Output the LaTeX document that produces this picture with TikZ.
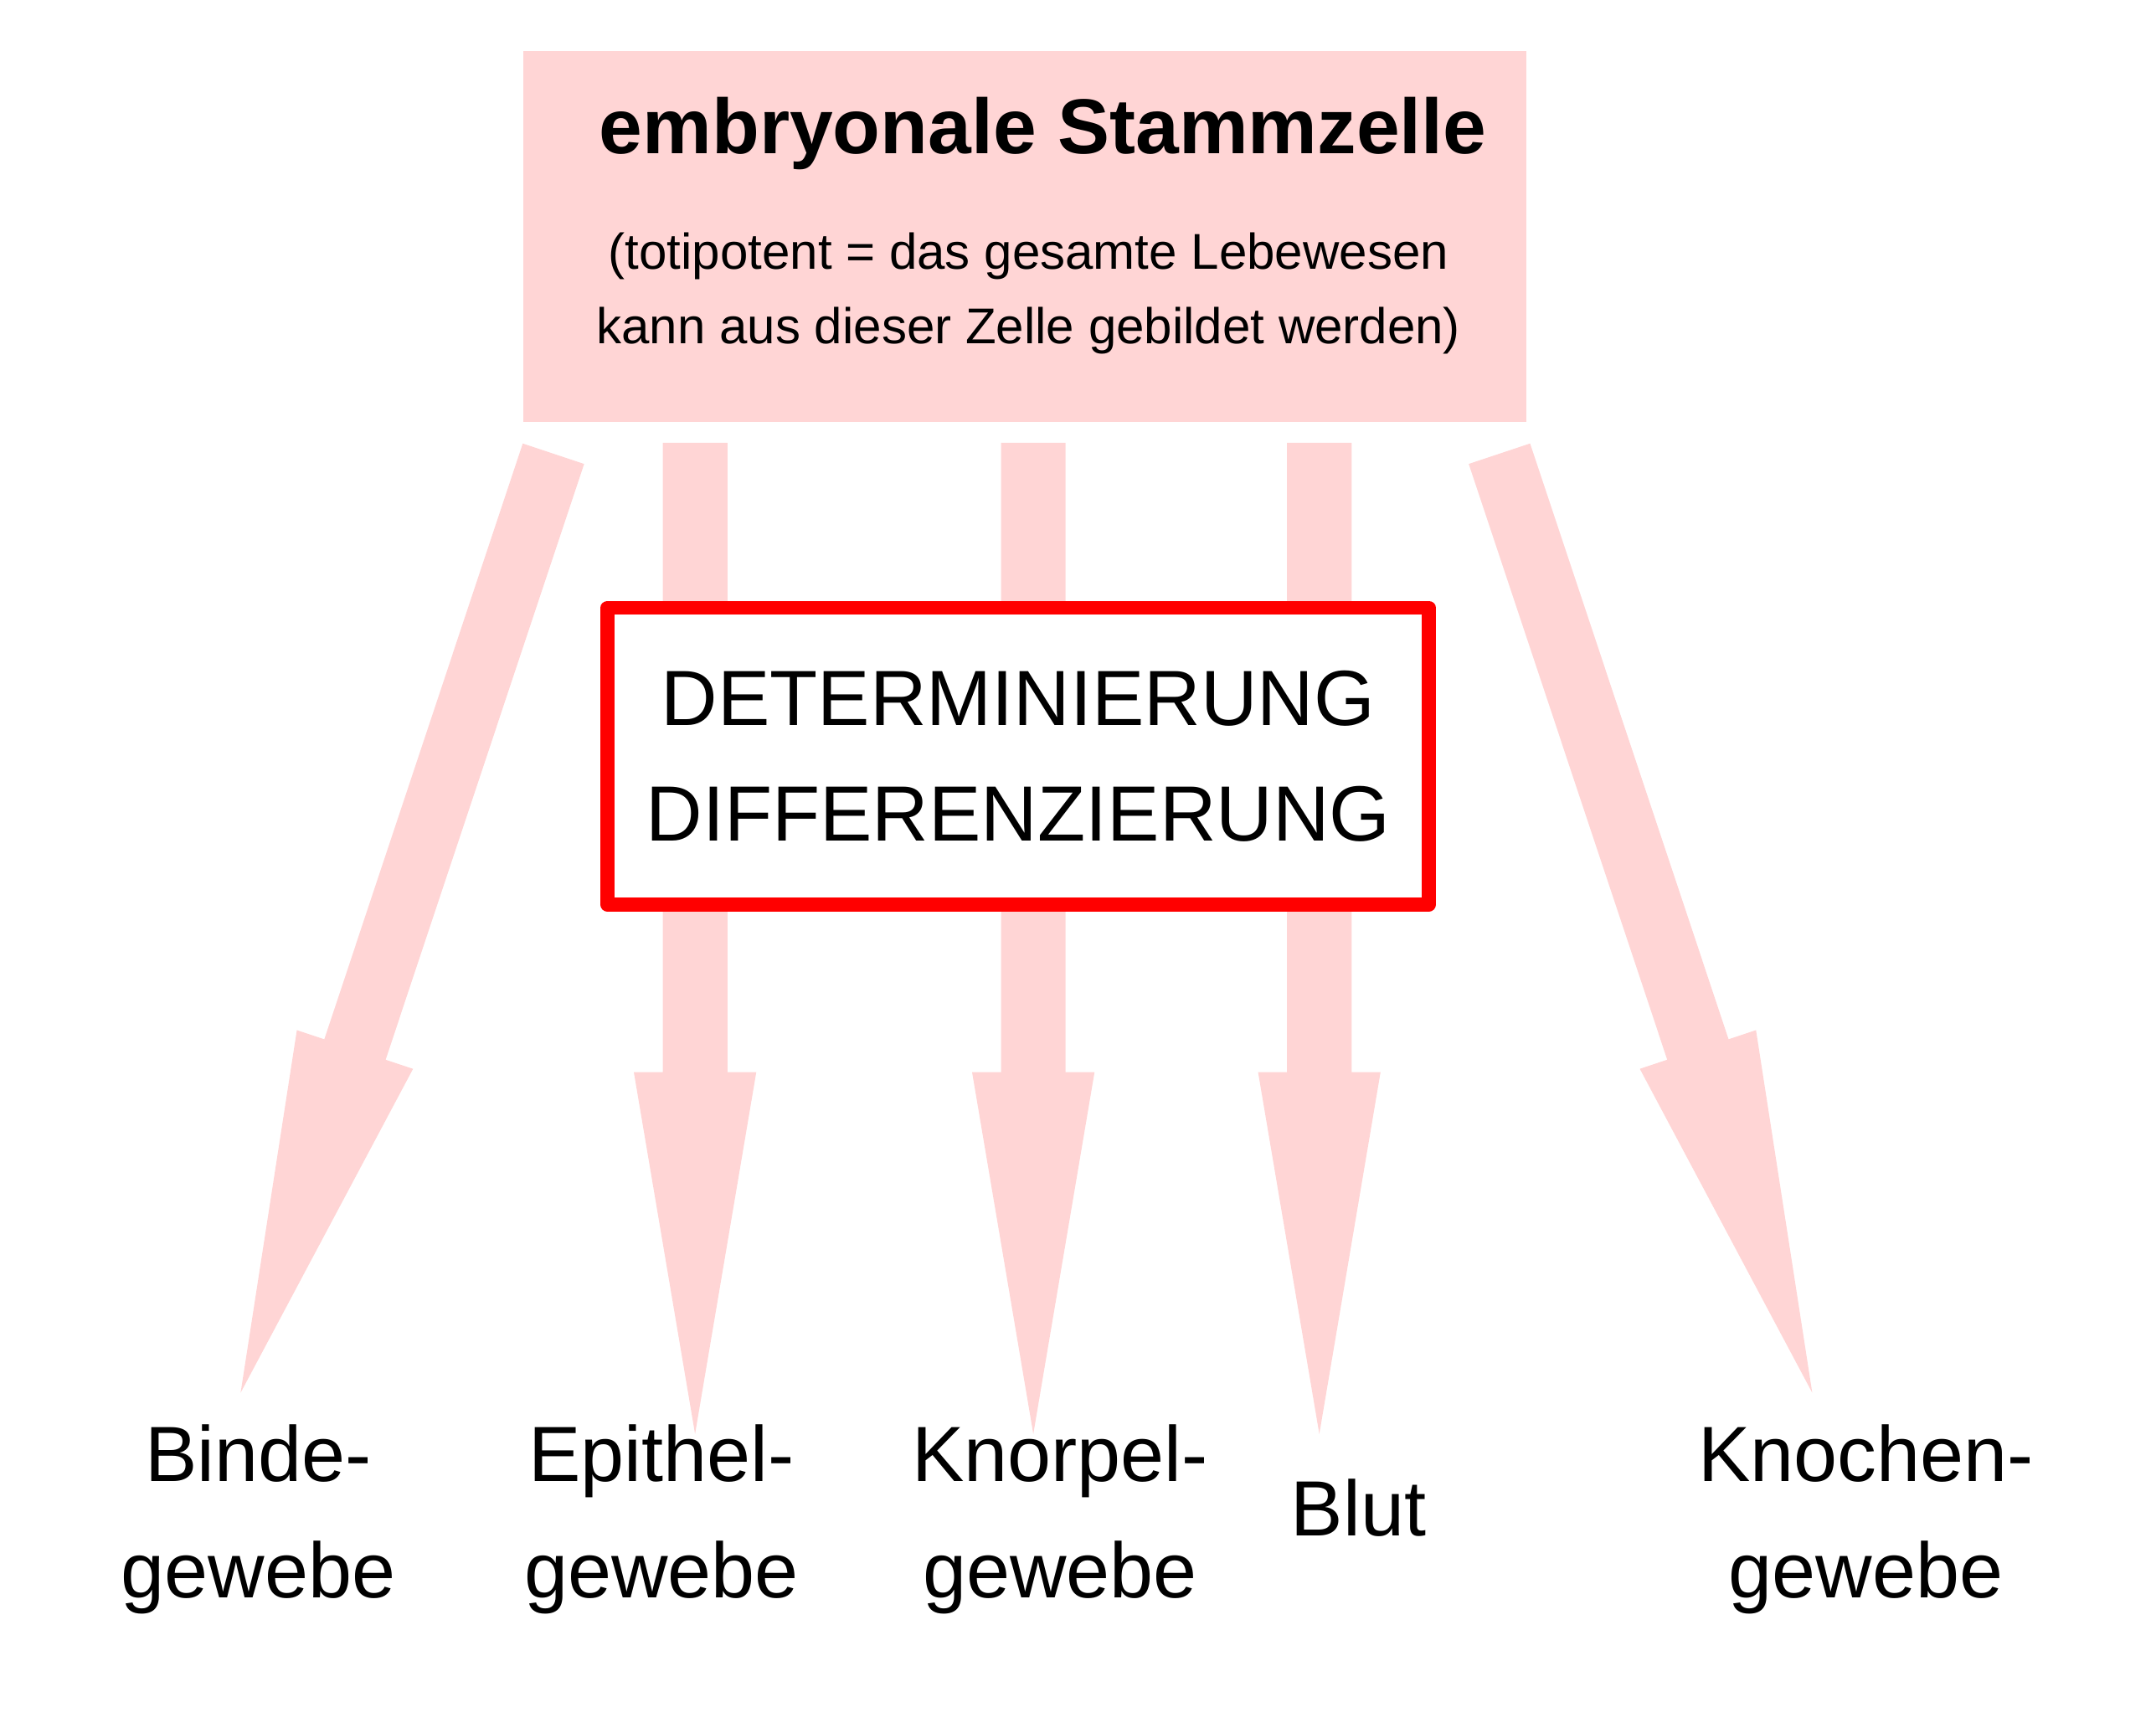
\documentclass[tikz,border=0pt]{standalone}
\usepackage{fontspec}
\setmainfont{Liberation Sans}
\usetikzlibrary{calc}
\definecolor{arrowpink}{RGB}{255,213,213}
\definecolor{boxred}{RGB}{255,0,0}
\newcommand\fatarr[2]{%
  \coordinate (hb) at ($(#2)!2.63cm!(#1)$);
  \fill[arrowpink] ($(#1)!0.235cm!90:(#2)$) -- ($(hb)!0.235cm!90:(#2)$)
    -- ($(hb)!0.445cm!90:(#2)$) -- (#2) -- ($(hb)!0.445cm!-90:(#2)$)
    -- ($(hb)!0.235cm!-90:(#2)$) -- ($(#1)!0.235cm!-90:(#2)$) -- cycle;}
\tikzset{
  lbl/.style={font=\fontsize{16.2}{24}\selectfont, align=center, anchor=base, inner sep=0pt},
  stembox/.style={fill=arrowpink, minimum width=7.29cm, minimum height=2.70cm, inner sep=0pt},
  detbox/.style={draw=boxred, line width=0.1cm, line join=round, fill=white,
    minimum width=5.97cm, minimum height=2.16cm, inner sep=0pt, align=center,
    font=\fontsize{16.2}{24}\selectfont}
}
\begin{document}
\begin{tikzpicture}[x=0.01cm, y=-0.01cm]
\useasboundingbox (0,0) rectangle (1568,1260);
% top box
\node[stembox] (stem) at (745.5,172) {};
\node[font=\fontsize{16.1}{19}\selectfont\bfseries, anchor=base, inner sep=0pt] (title) at (758.5,112) {embryonale Stammzelle};
\node[font=\fontsize{10.4}{15.4}\selectfont, align=center, anchor=base, inner sep=0pt] (sub) at (748,250) {(totipotent = das gesamte Lebewesen\\kann aus dieser Zelle gebildet werden)};
% arrow coordinates
\coordinate (s1) at (402.5,330);  \coordinate (t1) at (175,1013);
\coordinate (s2) at (505.5,322);  \coordinate (t2) at (505.5,1043);
\coordinate (s3) at (751.5,322);  \coordinate (t3) at (751.5,1043);
\coordinate (s4) at (959.5,322);  \coordinate (t4) at (959.5,1043);
\coordinate (s5) at (1090.5,330); \coordinate (t5) at (1318,1013);
\fatarr{s1}{t1}
\fatarr{s2}{t2}
\fatarr{s3}{t3}
\fatarr{s4}{t4}
\fatarr{s5}{t5}
% middle box
\node[detbox] (det) at (740.5,550) {DETERMINIERUNG\\DIFFERENZIERUNG};
% labels
\node[lbl] (binde) at (188,1162) {Binde-\\gewebe};
\node[lbl] (epi) at (481,1162) {Epithel-\\gewebe};
\node[lbl] (knorpel) at (771,1162) {Knorpel-\\gewebe};
\node[lbl] (blut) at (988,1117) {Blut};
\node[lbl] (knochen) at (1357,1162) {Knochen-\\gewebe};
\end{tikzpicture}
\end{document}
